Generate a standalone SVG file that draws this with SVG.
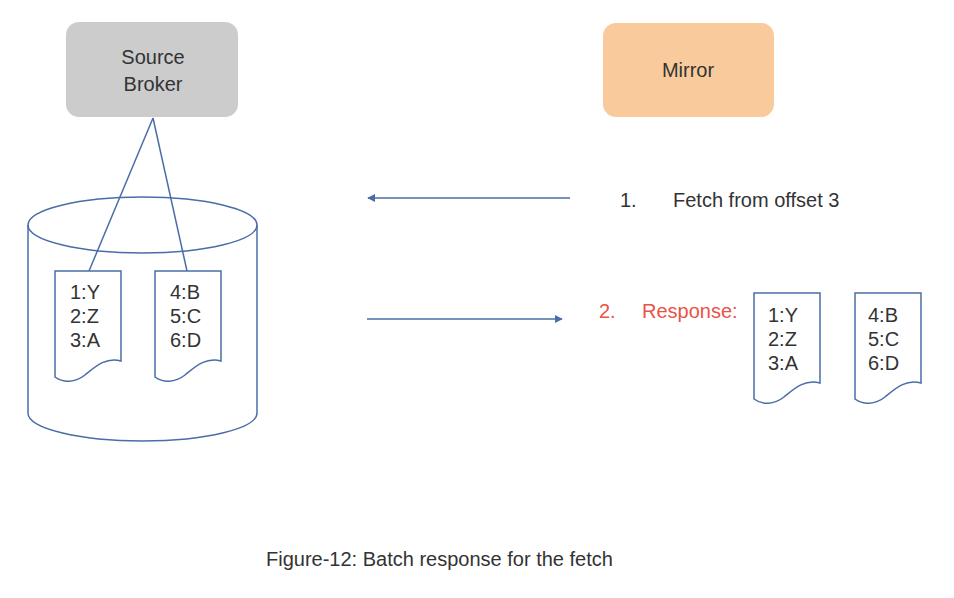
<svg xmlns="http://www.w3.org/2000/svg" width="954" height="598" viewBox="0 0 954 598">
<style>
  text { font-family: "Liberation Sans", Arial, sans-serif; font-size: 20px; fill: #333333; }
  .line { stroke: #4a6da7; stroke-width: 1.5; fill: none; }
  .doc { stroke: #4a6da7; stroke-width: 1.5; fill: #ffffff; }
  .red { fill: #ea5346; }
  .mid { text-anchor: middle; }
</style>
<defs>
  <marker id="arrow" viewBox="0 0 10 10" refX="9" refY="5" markerWidth="8" markerHeight="8" markerUnits="userSpaceOnUse" orient="auto">
    <path d="M0,0 L10,5 L0,10 Z" fill="#4a6da7"/>
  </marker>
  <path id="docshape" d="M0,0 H66 V90 C50,86 40,96 30,104 C20,112 8,112 0,106 Z"/>
</defs>
<rect width="954" height="598" fill="#ffffff"/>

<g id="source-broker">
  <rect x="66" y="22" width="172" height="95" rx="13" fill="#cccccc"/>
  <text x="153" y="64" class="mid">Source</text>
  <text x="153" y="91" class="mid">Broker</text>
</g>

<g id="mirror">
  <rect x="603" y="23" width="171" height="94" rx="13" fill="#f9cb9c"/>
  <text x="688" y="77" class="mid">Mirror</text>
</g>

<g id="storage">
  <path class="line" d="M28,225 V413 A114.5,28 0 0 0 257,413 V225"/>
  <ellipse class="line" cx="142.5" cy="225" rx="114.5" ry="28"/>
</g>

<g id="connectors">
  <line class="line" x1="153" y1="118" x2="89" y2="271"/>
  <line class="line" x1="153" y1="118" x2="187" y2="271"/>
  <line class="line" x1="570" y1="198" x2="368" y2="198" marker-end="url(#arrow)"/>
  <line class="line" x1="367" y1="319" x2="562" y2="319" marker-end="url(#arrow)"/>
</g>

<g id="batch1">
  <use href="#docshape" class="doc" x="55" y="271"/>
  <text x="70" y="299">1:Y</text>
  <text x="70" y="323">2:Z</text>
  <text x="70" y="347">3:A</text>
</g>

<g id="batch2">
  <use href="#docshape" class="doc" x="155" y="271"/>
  <text x="170" y="299">4:B</text>
  <text x="170" y="323">5:C</text>
  <text x="170" y="347">6:D</text>
</g>

<g id="fetch-label">
  <text x="620" y="207">1.</text>
  <text x="673" y="207">Fetch from offset 3</text>
</g>

<g id="response-label">
  <text x="599" y="318" class="red">2.</text>
  <text x="642" y="318" class="red">Response:</text>
</g>

<g id="response-batch1">
  <use href="#docshape" class="doc" x="754" y="293"/>
  <text x="768" y="322">1:Y</text>
  <text x="768" y="346">2:Z</text>
  <text x="768" y="370">3:A</text>
</g>

<g id="response-batch2">
  <use href="#docshape" class="doc" x="855" y="293"/>
  <text x="868" y="322">4:B</text>
  <text x="868" y="346">5:C</text>
  <text x="868" y="370">6:D</text>
</g>

<g id="caption">
  <text x="266" y="566">Figure-12: Batch response for the fetch</text>
</g>
</svg>
